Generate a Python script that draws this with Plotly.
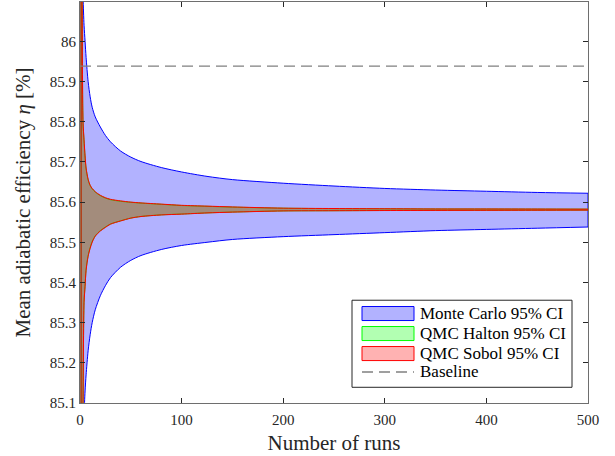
import plotly.graph_objects as go

# Number of runs at which the confidence bounds were read
runs = [1, 2, 3, 4, 5, 6, 8, 10, 12, 15, 20, 25, 30, 40, 50, 60, 80, 100,
        125, 150, 200, 250, 300, 350, 400, 450, 500]

# Monte Carlo 95% CI bounds
mc_upper = [87.0, 86.23, 86.11, 86.04, 86.00, 85.96, 85.90, 85.862, 85.836, 85.812,
            85.787, 85.766, 85.750, 85.727, 85.712, 85.701, 85.686, 85.675,
            85.664, 85.656, 85.647, 85.640, 85.634, 85.630, 85.627, 85.624, 85.622]
mc_lower = [84.2, 84.85, 84.99, 85.07, 85.13, 85.17, 85.23, 85.27, 85.30, 85.332,
            85.367, 85.392, 85.412, 85.438, 85.455, 85.467, 85.482, 85.492,
            85.500, 85.507, 85.514, 85.519, 85.524, 85.529, 85.532, 85.535, 85.538]

# QMC Halton 95% CI bounds
halton_upper = [87.0, 86.19, 85.795, 85.752, 85.712, 85.683, 85.655, 85.641, 85.633, 85.625,
                85.616, 85.610, 85.606, 85.602, 85.5995, 85.5975, 85.5945, 85.5915,
                85.5895, 85.5875, 85.5848, 85.5838, 85.5833, 85.5829, 85.5828, 85.5826, 85.5824]
halton_lower = [84.2, 84.72, 85.085, 85.352, 85.392, 85.432, 85.467, 85.487, 85.502, 85.516,
                85.529, 85.538, 85.5455, 85.5535, 85.5603, 85.5643, 85.5683, 85.5703,
                85.5732, 85.5752, 85.5781, 85.5786, 85.5791, 85.5794, 85.5796, 85.5798, 85.5801]

# QMC Sobol 95% CI bounds
sobol_upper = [87.0, 86.20, 85.80, 85.755, 85.715, 85.685, 85.657, 85.642, 85.634, 85.626,
               85.617, 85.611, 85.607, 85.603, 85.600, 85.598, 85.595, 85.592,
               85.590, 85.588, 85.585, 85.584, 85.5835, 85.583, 85.583, 85.5828, 85.5825]
sobol_lower = [84.2, 84.70, 85.08, 85.35, 85.39, 85.43, 85.465, 85.485, 85.50, 85.515,
               85.528, 85.537, 85.545, 85.553, 85.560, 85.564, 85.568, 85.570,
               85.573, 85.575, 85.578, 85.5785, 85.579, 85.5793, 85.5795, 85.5797, 85.580]

baseline_value = 85.9385
x_ticks = [0, 100, 200, 300, 400, 500]
y_ticks = [85.1, 85.2, 85.3, 85.4, 85.5, 85.6, 85.7, 85.8, 85.9, 86.0]
y_tick_labels = ["85.1", "85.2", "85.3", "85.4", "85.5", "85.6", "85.7", "85.8", "85.9", "86"]

series_names = ["Monte Carlo 95% CI", "QMC Halton 95% CI", "QMC Sobol 95% CI", "Baseline"]
edge_colors = ["rgb(0,0,255)", "rgb(0,255,0)", "rgb(255,0,0)", "rgb(128,128,128)"]
fill_colors = ["rgba(0,0,255,0.3)", "rgba(0,255,0,0.3)", "rgba(255,0,0,0.3)", None]

FONT = "Liberation Serif"
TEXT = "rgb(38,38,38)"

fig = go.Figure()

bands = [(mc_upper, mc_lower), (halton_upper, halton_lower), (sobol_upper, sobol_lower)]
for i, (up, lo) in enumerate(bands):
    line = dict(color=edge_colors[i], width=1, shape="spline", smoothing=0.8)
    fig.add_trace(go.Scatter(
        x=runs, y=lo, mode="lines", line=line,
        name=series_names[i], hoverinfo="skip", showlegend=False,
    ))
    fig.add_trace(go.Scatter(
        x=runs, y=up, mode="lines", line=line,
        fill="tonexty", fillcolor=fill_colors[i],
        name=series_names[i], hoverinfo="skip", showlegend=False,
    ))
    # closing edges of the patch at both ends
    for k in (0, -1):
        fig.add_trace(go.Scatter(
            x=[runs[k], runs[k]], y=[lo[k], up[k]], mode="lines",
            line=dict(color=edge_colors[i], width=1),
            hoverinfo="skip", showlegend=False,
        ))

fig.add_trace(go.Scatter(
    x=[0, 500], y=[baseline_value, baseline_value],
    mode="lines",
    line=dict(color=edge_colors[3], width=1.3, dash="11px,6px"),
    name=series_names[3],
    hoverinfo="skip",
    showlegend=False,
))

# ---- legend box (drawn in paper coordinates, MATLAB style) ----
# plot area in pixels: x 80..588, y 2..402.7
def px2x(px):
    return (px - 80) / 508.0


def py2y(py):
    return (402.7 - py) / 400.7


shapes = []
shapes.append(dict(type="rect", xref="paper", yref="paper",
                   x0=px2x(352), x1=px2x(572), y0=py2y(387), y1=py2y(300),
                   fillcolor="white", line=dict(color=TEXT, width=1), layer="above"))
row_centers = [313.3, 333.3, 353.3, 371.7]
for i in range(3):
    c = row_centers[i]
    shapes.append(dict(type="rect", xref="paper", yref="paper",
                       x0=px2x(362), x1=px2x(414), y0=py2y(c + 7), y1=py2y(c - 7),
                       fillcolor=fill_colors[i], line=dict(color=edge_colors[i], width=1),
                       layer="above"))
shapes.append(dict(type="line", xref="paper", yref="paper",
                   x0=px2x(362), x1=px2x(414), y0=py2y(row_centers[3]), y1=py2y(row_centers[3]),
                   line=dict(color=edge_colors[3], width=1.3, dash="11px,6px"), layer="above"))

annotations = []
for i in range(4):
    annotations.append(dict(
        xref="paper", yref="paper", x=px2x(418), y=py2y(row_centers[i]),
        xanchor="left", yanchor="middle", showarrow=False,
        text=series_names[i], font=dict(family=FONT, size=17, color="black"),
    ))

axis_common = dict(
    showgrid=False, zeroline=False,
    showline=True, linecolor="rgb(110,110,110)", linewidth=1,
    mirror="ticks", ticks="inside", ticklen=5, tickwidth=1,
    tickcolor="rgb(40,40,40)",
    tickfont=dict(family=FONT, size=15, color=TEXT),
)

fig.update_layout(
    width=615, height=456,
    margin=dict(l=80, r=27, t=2, b=53, autoexpand=False),
    paper_bgcolor="white", plot_bgcolor="white",
    font=dict(family=FONT, color=TEXT),
    xaxis=dict(
        range=[0, 500], tickvals=x_ticks, ticklabelstandoff=3,
        title=dict(text="Number of runs", font=dict(family=FONT, size=21, color=TEXT), standoff=8),
        **axis_common,
    ),
    yaxis=dict(
        range=[85.1, 86.098], tickvals=y_ticks, ticktext=y_tick_labels,
        title=dict(text="Mean adiabatic efficiency <i>η</i> [%]", font=dict(family=FONT, size=21, color=TEXT), standoff=13),
        **axis_common,
    ),
    shapes=shapes,
    annotations=annotations,
    showlegend=False,
)

fig.write_html("out.html", config={"displayModeBar": False},
               post_script="document.body.style.margin='0px';")
